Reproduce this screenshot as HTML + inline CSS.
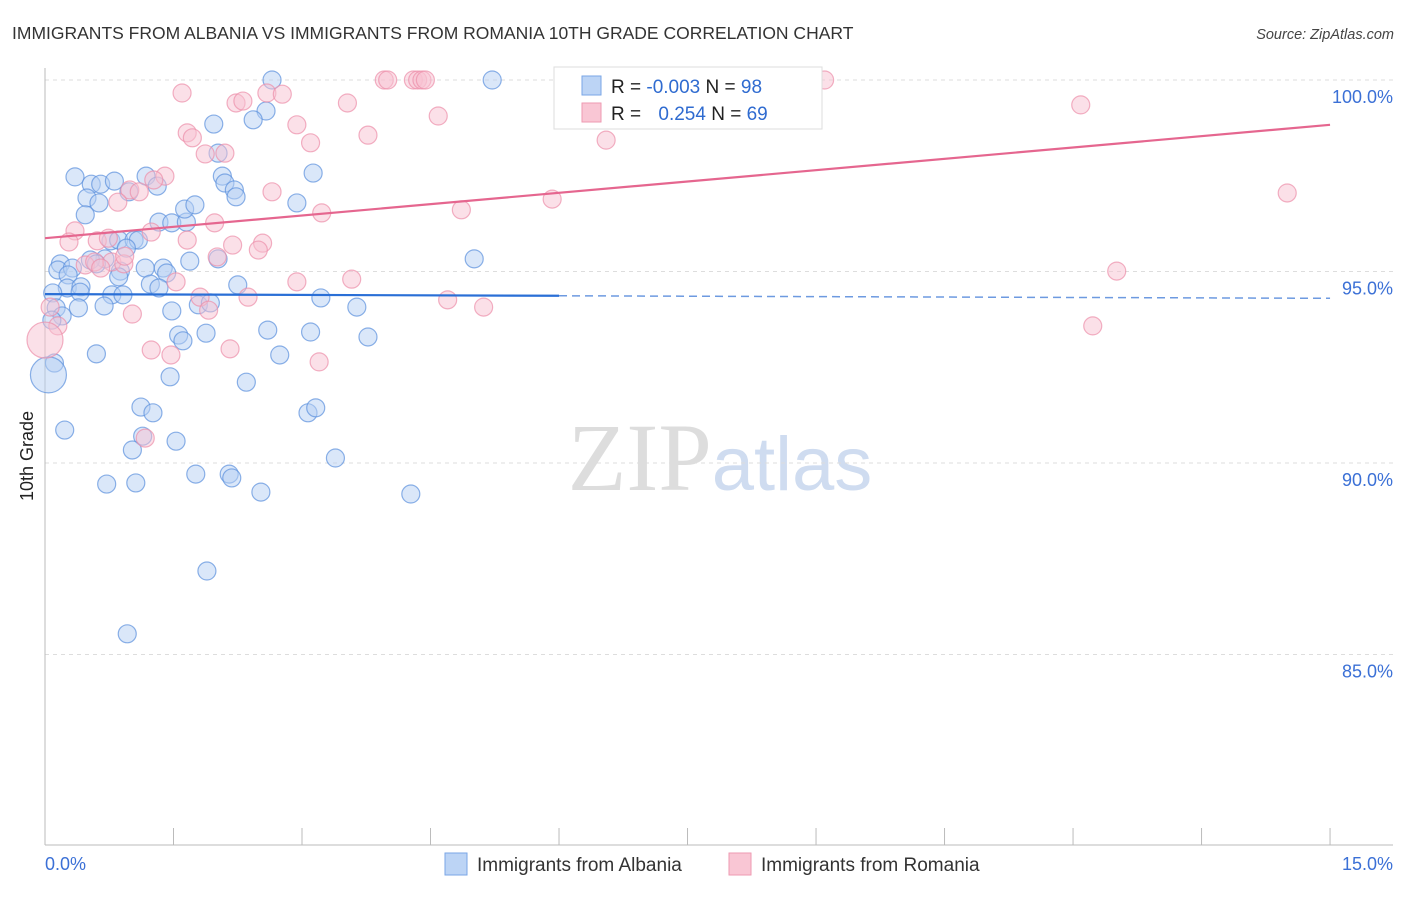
<!DOCTYPE html>
<html><head><meta charset="utf-8"><style>
body{margin:0;background:#fff;width:1406px;height:892px;overflow:hidden;font-family:"Liberation Sans",sans-serif}
</style></head><body>
<svg id="chart" width="1406" height="892" xmlns="http://www.w3.org/2000/svg" font-family="Liberation Sans, sans-serif">
<text x="12" y="39" font-size="17.5" fill="#333">IMMIGRANTS FROM ALBANIA VS IMMIGRANTS FROM ROMANIA 10TH GRADE CORRELATION CHART</text>
<text x="1394" y="39" font-size="14.5" fill="#444" font-style="italic" text-anchor="end">Source: ZipAtlas.com</text>
<text x="720" y="490" font-size="96" text-anchor="middle"><tspan fill="#ddd" font-family="Liberation Serif, serif">ZIP</tspan><tspan fill="#cfdcf0" font-size="76">atlas</tspan></text>
<text transform="translate(33,456) rotate(-90)" font-size="18" fill="#222" text-anchor="middle">10th Grade</text>
<g id="grid"></g><g id="axes"></g><g id="pts"></g><g id="trends"></g>
<g>
<rect x="554" y="67" width="268" height="62" fill="#fff" stroke="#ddd"/>
<rect x="582" y="76" width="19" height="19" fill="#bcd4f5" stroke="#7aa6e6"/>
<rect x="582" y="103" width="19" height="19" fill="#f9c6d4" stroke="#ee9ab2"/>
<text x="611" y="93" font-size="19" fill="#222">R = <tspan fill="#2f6bd0">-0.003</tspan>   N = <tspan fill="#2f6bd0">98</tspan></text>
<text x="611" y="120" font-size="19" fill="#222">R = <tspan fill="#2f6bd0" dx="12"> 0.254</tspan>   N = <tspan fill="#2f6bd0">69</tspan></text>
</g>
<g>
<rect x="445" y="853" width="22" height="22" fill="#bcd4f5" stroke="#7aa6e6"/>
<text x="477" y="871" font-size="19" fill="#333">Immigrants from Albania</text>
<rect x="729" y="853" width="22" height="22" fill="#f9c6d4" stroke="#ee9ab2"/>
<text x="761" y="871" font-size="19" fill="#333">Immigrants from Romania</text>
</g>
</svg>
<script>
const yTicks=[100,95,90,85];
const yTickLabels=["100.0%","95.0%","90.0%","85.0%"];
const xTickVals=[0,1.5,3,4.5,6,7.5,9,10.5,12,13.5,15];
const albaniaX=[2.65,5.22,2.58,2.43,1.97,2.02,3.13,2.07,2.10,2.21,2.23,2.94,0.35,0.54,0.65,0.81,1.18,1.31,0.98,0.49,0.63,0.47,1.33,1.48,1.65,1.63,1.75,0.77,0.86,1.04,1.09,0.95,0.70,0.53,0.18,0.15,0.32,0.27,0.60,0.88,0.86,1.17,1.38,1.42,1.69,2.02,5.01,0.26,0.42,0.41,1.23,1.33,2.25,0.78,0.91,0.09,0.13,0.39,0.69,1.48,1.79,1.93,3.22,3.64,0.20,0.08,2.60,3.10,1.56,1.61,1.88,3.77,0.60,2.74,0.11,0.04,1.46,2.35,1.12,1.26,3.07,3.16,0.23,1.14,1.53,1.02,3.39,1.76,2.15,2.18,0.72,1.06,2.52,4.27,1.89,0.96];
const albaniaY=[100,100,99.19,98.96,98.85,98.09,97.57,97.49,97.31,97.13,96.95,96.79,97.47,97.28,97.28,97.36,97.49,97.23,97.08,96.92,96.79,96.48,96.29,96.27,96.29,96.63,96.74,95.80,95.82,95.82,95.82,95.61,95.33,95.30,95.20,95.04,95.09,94.91,95.20,95.01,94.86,95.09,95.09,94.96,95.27,95.33,95.33,94.57,94.60,94.46,94.67,94.57,94.65,94.39,94.39,94.44,94.05,94.05,94.10,93.97,94.13,94.18,94.31,94.07,93.84,93.73,93.47,93.42,93.34,93.19,93.39,93.29,92.85,92.82,92.61,92.30,92.25,92.11,91.46,91.31,91.31,91.44,90.86,90.70,90.57,90.34,90.13,89.71,89.71,89.61,89.45,89.48,89.24,89.19,87.18,85.54];
const romaniaX=[1.60,2.23,2.31,2.59,2.77,3.96,4.00,4.30,4.35,4.40,4.44,9.10,12.09,3.53,2.94,3.10,3.77,4.59,6.55,1.66,1.72,1.87,2.10,1.40,1.27,0.99,1.10,0.85,2.65,3.23,4.86,5.92,14.50,1.98,0.35,0.28,0.61,0.74,1.24,1.66,2.19,2.54,2.49,2.01,0.47,0.58,0.78,0.92,0.65,0.93,2.94,3.58,12.51,1.53,2.37,1.81,1.91,4.70,5.12,1.02,12.23,0.15,0.06,0.00,1.24,1.47,2.16,3.20,1.17];
const romaniaY=[99.66,99.40,99.45,99.66,99.63,100,100,100,100,100,100,100,99.35,99.40,98.83,98.36,98.56,99.06,98.43,98.62,98.49,98.07,98.09,97.49,97.39,97.13,97.08,96.81,97.08,96.53,96.61,96.89,97.05,96.27,96.06,95.77,95.80,95.87,96.03,95.82,95.69,95.74,95.56,95.38,95.17,95.25,95.25,95.20,95.09,95.40,94.73,94.80,95.01,94.73,94.33,94.33,93.99,94.26,94.07,93.89,93.58,93.58,94.07,93.21,92.95,92.82,92.98,92.64,90.65];
const albaniaBig=[75];   // index of large bubble
const romaniaBig=[63];
const albaniaTrend=[94.41,94.30];
const romaniaTrend=[95.87,98.83];

const X=v=>45+v*85.67, Y=v=>80+(100-v)*38.3;
const NS="http://www.w3.org/2000/svg";
function mk(t,a,p){const e=document.createElementNS(NS,t);for(const k in a)e.setAttribute(k,a[k]);p.appendChild(e);return e;}
const grid=document.getElementById('grid'),axes=document.getElementById('axes'),pts=document.getElementById('pts'),tr=document.getElementById('trends');
yTicks.forEach((v,i)=>{
 const l=mk('line',{x1:45,x2:1393,y1:Y(v),y2:Y(v),stroke:'#ddd','stroke-dasharray':'4,4'},grid);
 
 
 const t=mk('text',{x:1393,y:Y(v)+23,'font-size':18,fill:'#3b70d6','text-anchor':'end'},axes);
 t.textContent=yTickLabels[i];
 
 
});
const ya=mk('line',{x1:45,x2:45,y1:68,y2:845,stroke:'#bbb'},axes);


const xa=mk('line',{x1:45,x2:1393,y1:845,y2:845,stroke:'#bbb'},axes);


xTickVals.forEach(v=>{const t=mk('line',{x1:X(v),x2:X(v),y1:828,y2:845,stroke:'#bbb'},axes);
 
 });
const x0=mk('text',{x:45,y:870,'font-size':18,fill:'#3b70d6'},axes);x0.textContent='0.0%';


const x1=mk('text',{x:1393,y:870,'font-size':18,fill:'#3b70d6','text-anchor':'end'},axes);x1.textContent='15.0%';


function series(xs,ys,big,fill,stroke,name){
 xs.forEach((x,i)=>{const r=big.includes(i)?18:9;
  const c=mk('circle',{cx:X(x),cy:Y(ys[i]),r:r,fill:fill,'fill-opacity':0.5,stroke:stroke,'stroke-opacity':0.7,'stroke-width':1.2},pts);
  
  });
}
series(albaniaX,albaniaY,albaniaBig,'#b5cff3','#5b90dd','albania-point');
series(romaniaX,romaniaY,romaniaBig,'#f8c1d1','#ec8eaa','romania-point');
const bm=albaniaTrend[0]+(albaniaTrend[1]-albaniaTrend[0])*6/15;
const b1=mk('line',{x1:X(0),y1:Y(albaniaTrend[0]),x2:X(6),y2:Y(bm),stroke:'#2a6fd6','stroke-width':2.2},tr);


const b2=mk('line',{x1:X(6),y1:Y(bm),x2:X(15),y2:Y(albaniaTrend[1]),stroke:'#6d9ae0','stroke-width':1.5,'stroke-dasharray':'8,5'},tr);


const p1=mk('line',{x1:X(0),y1:Y(romaniaTrend[0]),x2:X(15),y2:Y(romaniaTrend[1]),stroke:'#e5668f','stroke-width':2.2},tr);


</script>
</body></html>
